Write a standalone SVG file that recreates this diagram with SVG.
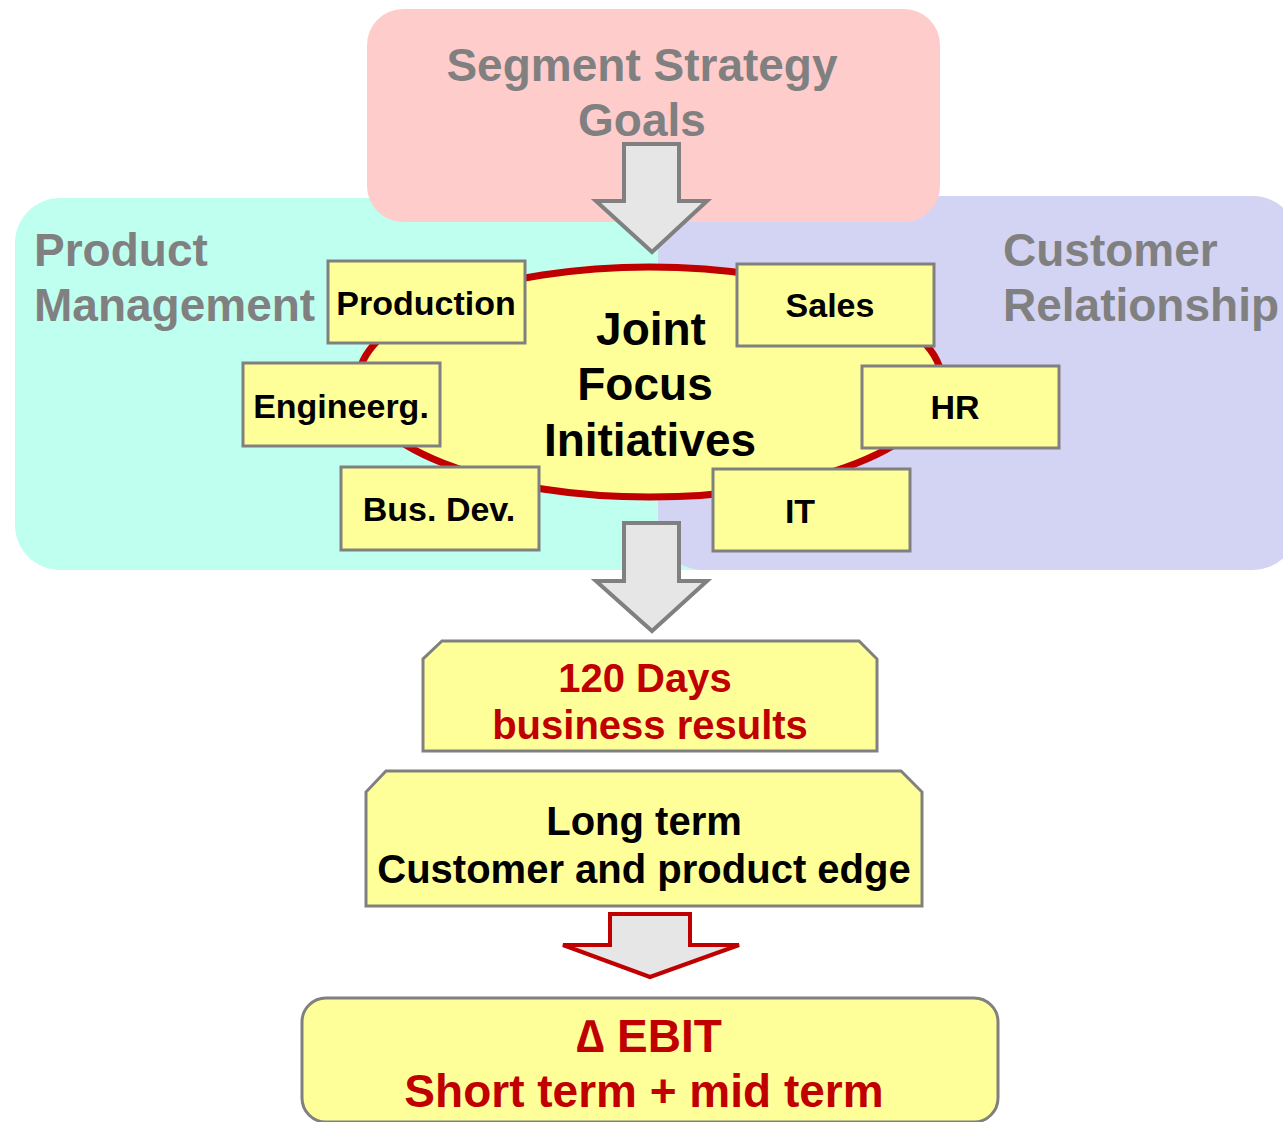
<svg xmlns="http://www.w3.org/2000/svg" width="1283" height="1122" viewBox="0 0 1283 1122">
<style>
text{font-family:"Liberation Sans",Arial,sans-serif;font-weight:bold;}
.big{font-size:46px;fill:#808080;}
.box{fill:#FFFF99;stroke:#808080;stroke-width:3;}
.bt{font-size:34px;fill:#000;text-anchor:middle;}
.arr{fill:#E6E6E6;stroke:#808080;stroke-width:4;stroke-linejoin:miter;}
.red{fill:#C00000;}
</style>
<rect width="1283" height="1122" fill="#FFFFFF"/>
<g id="product-management">
<rect x="15" y="198" width="740" height="372" rx="45" fill="#BFFFEF"/>
<text class="big" x="34" y="266">Product</text>
<text class="big" x="34" y="321">Management</text>
</g>
<g id="customer-relationship">
<rect x="658" y="196" width="640" height="374" rx="45" fill="#D3D3F3"/>
<text class="big" x="1003" y="266">Customer</text>
<text class="big" x="1003" y="321">Relationship</text>
</g>
<g id="segment-strategy">
<rect x="367" y="9" width="573" height="213" rx="36" fill="#FFCCCC"/>
<text class="big" x="642" y="81" text-anchor="middle">Segment Strategy</text>
<text class="big" x="642" y="136" text-anchor="middle">Goals</text>
</g>
<g id="joint-focus">
<ellipse cx="650" cy="382" rx="292" ry="115" fill="#FFFF99" stroke="#C00000" stroke-width="7"/>
<text x="651" y="345" font-size="46" text-anchor="middle" fill="#000">Joint</text>
<text x="645" y="400" font-size="46" text-anchor="middle" fill="#000">Focus</text>
<text x="650" y="456" font-size="46" text-anchor="middle" fill="#000">Initiatives</text>
</g>
<g id="production"><rect class="box" x="328" y="261" width="197" height="82"/><text class="bt" x="426" y="315">Production</text></g>
<g id="sales"><rect class="box" x="737" y="264" width="197" height="82"/><text class="bt" x="830" y="317">Sales</text></g>
<g id="engineerg"><rect class="box" x="243" y="363" width="197" height="83"/><text class="bt" x="341" y="418">Engineerg.</text></g>
<g id="hr"><rect class="box" x="862" y="366" width="197" height="82"/><text class="bt" x="955" y="419">HR</text></g>
<g id="busdev"><rect class="box" x="341" y="467" width="198" height="83"/><text class="bt" x="439" y="521">Bus. Dev.</text></g>
<g id="it"><rect class="box" x="713" y="469" width="197" height="82"/><text class="bt" x="800" y="523">IT</text></g>
<g id="connectors">
<polygon class="arr" points="624,144 679,144 679,201 707,201 652,252 596,201 624,201"/>
<polygon class="arr" points="624,523 679,523 679,581 707,581 652,631 596,581 624,581"/>
<polygon points="610,914 690,914 690,945 739,945 650,977 563,945 610,945" fill="#E6E6E6" stroke="#C00000" stroke-width="4"/>
</g>
<g id="days120">
<polygon class="box" points="442,641 859,641 877,659 877,751 423,751 423,659" stroke-width="4"/>
<text class="red" x="645" y="692" font-size="40" text-anchor="middle">120 Days</text>
<text class="red" x="650" y="739" font-size="40" text-anchor="middle">business results</text>
</g>
<g id="long-term">
<polygon class="box" points="386,771 901,771 922,792 922,906 366,906 366,792" stroke-width="4"/>
<text x="644" y="835" font-size="40" text-anchor="middle" fill="#000">Long term</text>
<text x="644" y="883" font-size="40" text-anchor="middle" fill="#000">Customer and product edge</text>
</g>
<g id="ebit">
<rect class="box" x="302" y="998" width="696" height="124" rx="24" stroke-width="4"/>
<text class="red" x="649" y="1052" font-size="46" text-anchor="middle">∆ EBIT</text>
<text class="red" x="644" y="1107" font-size="46" text-anchor="middle">Short term + mid term</text>
</g>
</svg>
